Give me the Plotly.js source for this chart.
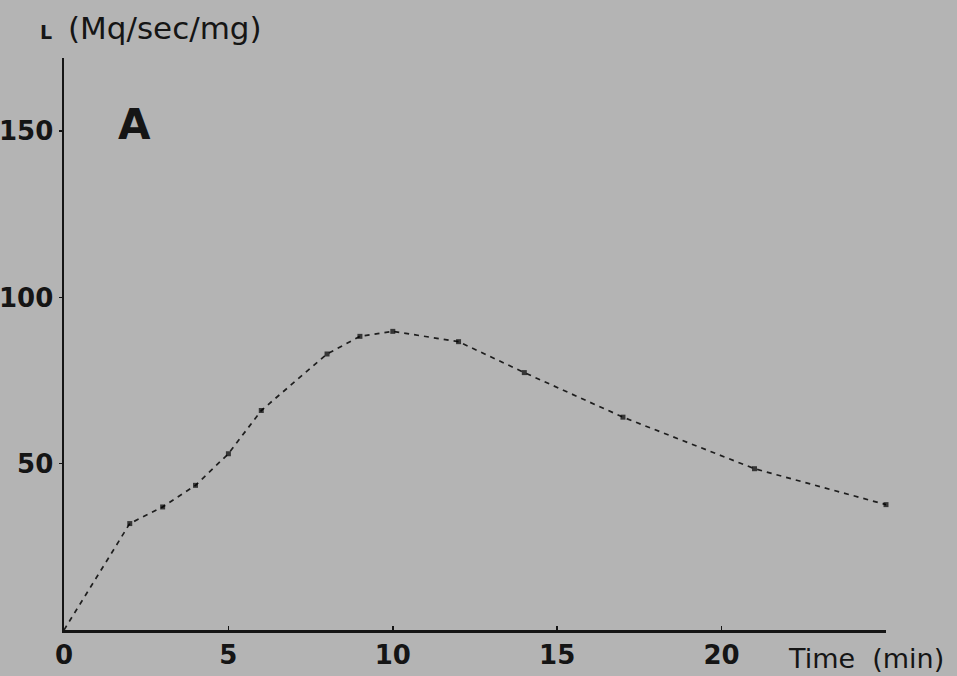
<!DOCTYPE html>
<html>
<head>
<meta charset="utf-8">
<script src="https://cdn.plot.ly/plotly-3.0.1.min.js"></script>
<style>
html,body{margin:0;padding:0;background:#b4b4b4;}
#chart{width:957px;height:676px;}
</style>
</head>
<body>
<div id="chart"></div>
<script>
// Data
const timeMin = [0, 2, 3, 4, 5, 6, 8, 9, 10, 12, 14, 17, 21, 25];
const lValues = [0, 32, 37, 43.5, 53, 66, 83, 88.3, 89.8, 86.7, 77.4, 64, 48.5, 37.7];
const markerShown = [0, 1, 1, 1, 1, 1, 1, 1, 1, 1, 1, 1, 1, 1];
const xTickVals = [0, 5, 10, 15, 20];
const yTickVals = [50, 100, 150];

const ink = '#151515';
const trace = {
  x: timeMin,
  y: lValues,
  type: 'scatter',
  mode: 'lines+markers',
  cliponaxis: false,
  line: {color: '#1e1e1e', width: 1.7, dash: '5px,5px'},
  marker: {symbol: 'square', size: markerShown.map(v => v ? 5 : 0), color: '#000', line: {width: 0}},
  hoverinfo: 'skip'
};

const layout = {
  width: 957, height: 676,
  paper_bgcolor: '#b4b4b4',
  plot_bgcolor: '#b4b4b4',
  margin: {l: 64, r: 71, t: 58, b: 46},
  showlegend: false,
  font: {family: 'DejaVu Sans', color: ink},
  xaxis: {
    range: [0, 25], tickvals: xTickVals, ticktext: xTickVals.map(String),
    showline: true, linecolor: ink, linewidth: 2.5, showgrid: false, zeroline: false,
    ticks: 'inside', ticklen: 4, tickwidth: 1.5, tickcolor: ink,
    tickfont: {family: 'DejaVu Sans', size: 26, color: ink, weight: 'bold'},
    fixedrange: true
  },
  yaxis: {
    range: [0, 172], tickvals: yTickVals, ticktext: yTickVals.map(String),
    showline: true, linecolor: ink, linewidth: 2.5, showgrid: false, zeroline: false,
    ticks: 'outside', ticklen: 3, tickwidth: 1.5, tickcolor: ink, ticklabelstandoff: 0,
    tickfont: {family: 'DejaVu Sans', size: 26, color: ink, weight: 'bold'},
    fixedrange: true
  },
  annotations: [
    {xref: 'paper', yref: 'paper', x: -0.032, y: 1.046, xanchor: 'left', yanchor: 'middle',
     showarrow: false, text: '<b>L</b>',
     font: {family: 'DejaVu Sans', size: 19, color: ink}},
    {xref: 'paper', yref: 'paper', x: 0.002, y: 1.052, xanchor: 'left', yanchor: 'middle',
     showarrow: false, text: '(Mq/sec/mg)',
     font: {family: 'DejaVu Sans', size: 31, color: ink}},
    {xref: 'paper', yref: 'paper', x: 0.063, y: 0.883, xanchor: 'left', yanchor: 'middle',
     showarrow: false, text: '<b>A</b>',
     font: {family: 'DejaVu Sans', size: 42, color: ink}},
    {xref: 'paper', yref: 'paper', x: 1.073, y: -0.049, xanchor: 'right', yanchor: 'middle',
     showarrow: false, text: 'Time  (min)',
     font: {family: 'DejaVu Sans', size: 27, color: ink}}
  ]
};

Plotly.newPlot('chart', [trace], layout, {displayModeBar: false, staticPlot: true});
</script>
</body>
</html>
